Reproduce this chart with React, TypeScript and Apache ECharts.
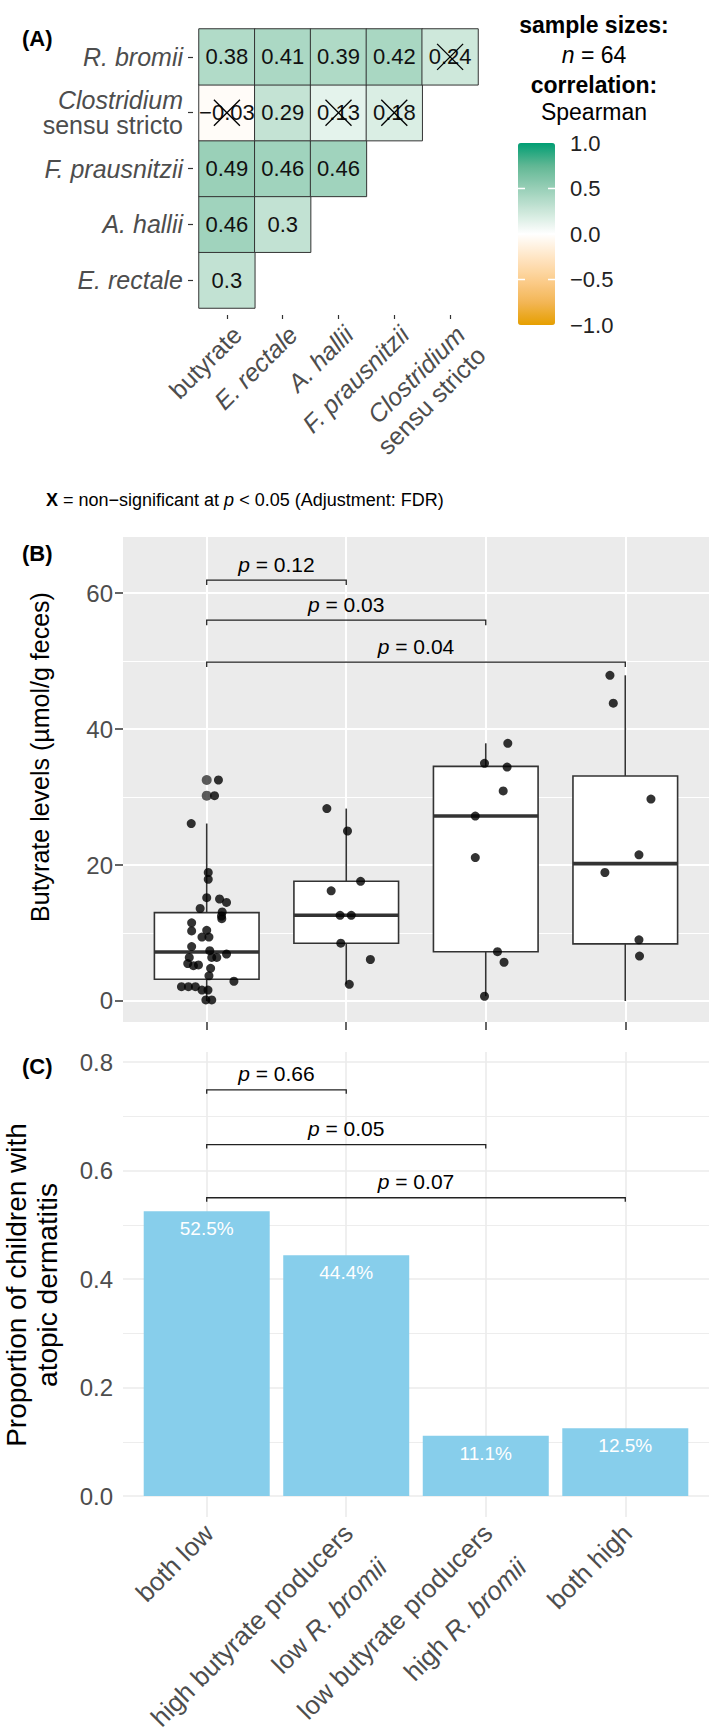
import React, { useEffect, useRef } from 'react';
import * as echarts from 'echarts';

const W = 709;
const H = 1733;
const FONT = "'Liberation Sans', Arial, Helvetica, sans-serif";
const GREY = '#4D4D4D';

// ---------------- Panel A: correlation matrix ----------------
const heatX = ['butyrate', 'E. rectale', 'A. hallii', 'F. prausnitzii', 'Clostridium sensu stricto'];
const heatY = ['E. rectale', 'A. hallii', 'F. prausnitzii', 'Clostridium sensu stricto', 'R. bromii'];
const corrERectale = [0.3];
const corrAHallii = [0.46, 0.3];
const corrFPrausnitzii = [0.49, 0.46, 0.46];
const corrClostridium = [-0.03, 0.29, 0.13, 0.18];
const corrRBromii = [0.38, 0.41, 0.39, 0.42, 0.24];
const nonSignificant = [[4, 4], [0, 3], [2, 3], [3, 3]]; // [x index, y index]
const legendTicks = [1, 0.5, 0, -0.5, -1];
const legendTickLabels = ['1.0', '0.5', '0.0', '\u22120.5', '\u22121.0'];
const sampleSize = 64;
const corrMethod = 'Spearman';

// ---------------- Panel B: butyrate box plots ----------------
const groups = [
  'both low',
  'high butyrate producers\nlow R. bromii',
  'low butyrate producers\nhigh R. bromii',
  'both high',
];
// [lower whisker, q1, median, q3, upper whisker]
const boxStats = [
  [0, 3.2, 7.2, 13.0, 26.1],
  [2.45, 8.5, 12.6, 17.6, 28.3],
  [0.7, 7.25, 27.2, 34.5, 37.9],
  [0, 8.4, 20.2, 33.1, 47.9],
];
const outliers = [[0, 32.5], [0, 30.2]];
// [value, jitter (category units)]
const pointsBothLow = [
  [32.5, 0.084], [30.2, 0.056], [26.1, -0.111], [18.9, 0.011], [17.9, 0.011], [15.2, 0],
  [15.0, 0.092], [14.5, 0.142], [13.6, -0.047], [13.1, 0.111], [12.5, 0.106], [12.1, 0.108],
  [11.5, -0.108], [10.3, -0.108], [10.4, 0], [9.4, -0.034], [9.4, 0.016], [8.0, -0.108],
  [7.4, 0.022], [6.4, -0.125], [6.4, 0.036], [6.4, 0.072], [6.9, 0.142], [5.5, -0.136],
  [5.2, -0.095], [5.3, -0.059], [4.8, 0.028], [3.7, 0.016], [2.9, 0.195], [2.1, -0.181],
  [2.1, -0.131], [2.1, -0.081], [1.6, -0.034], [1.6, 0.009], [0.15, -0.006], [0.15, 0.036],
];
const pointsHighProducers = [
  [28.3, -0.139], [25.0, 0.009], [17.6, 0.103], [16.2, -0.108], [12.6, -0.044],
  [12.6, 0.036], [8.5, -0.039], [6.1, 0.173], [2.45, 0.022],
];
const pointsHighBromii = [
  [37.9, 0.158], [34.95, -0.009], [34.4, 0.153], [30.9, 0.125], [27.2, -0.075],
  [21.1, -0.075], [7.25, 0.084], [5.7, 0.131], [0.7, -0.009],
];
const pointsBothHigh = [
  [47.9, -0.11], [43.8, -0.086], [29.7, 0.184], [21.5, 0.098], [18.9, -0.146], [9.0, 0.098], [6.6, 0.102],
];
const groupPoints = [pointsBothLow, pointsHighProducers, pointsHighBromii, pointsBothHigh];
const bTicks = [0, 20, 40, 60];
const bMinor = [10, 30, 50];
const bPairs = [[0, 1], [0, 2], [0, 3]];
const bBracketY = [61.9, 56.0, 49.85];
const bPValues = ['0.12', '0.03', '0.04'];

// ---------------- Panel C: proportion with atopic dermatitis ----------------
const adProportion = [0.525, 0.444, 0.111, 0.125];
const adLabels = ['52.5%', '44.4%', '11.1%', '12.5%'];
const cTicks = [0, 0.2, 0.4, 0.6, 0.8];
const cMinor = [0.1, 0.3, 0.5, 0.7];
const cPairs = [[0, 1], [0, 2], [0, 3]];
const cBracketY = [0.749, 0.648, 0.55];
const cPValues = ['0.66', '0.05', '0.07'];

const catIdx = [0, 1, 2, 3];

// ---------------- helpers ----------------
const cellLabel = (v: number) => (v < 0 ? '\u2212' + Math.abs(v) : String(v));

const speciesLabel = (name: string) => {
  if (name === 'butyrate') return '{n|butyrate}';
  if (name === 'Clostridium sensu stricto') return '{i|Clostridium}\n{n|sensu stricto}';
  return '{i|' + name + '}';
};

const groupLabel = (i: number) =>
  groups[i]
    .split('\n')
    .map((line) => {
      const k = line.indexOf('R. bromii');
      if (k < 0) return '{n|' + line + '}';
      return '{n|' + line.slice(0, k) + '}{i|R. bromii}';
    })
    .join('\n');

const richPair = (size: number, lh: number, color: string) => ({
  i: { fontStyle: 'italic', fontSize: size, color, fontFamily: FONT, lineHeight: lh },
  n: { fontStyle: 'normal', fontSize: size, color, fontFamily: FONT, lineHeight: lh },
});

const text = (
  x: number,
  y: number,
  t: string,
  o: { size?: number; align?: string; valign?: string; weight?: string; color?: string; rotation?: number; lh?: number; rich?: any } = {}
) => ({
  type: 'text',
  x,
  y,
  rotation: o.rotation || 0,
  silent: true,
  style: {
    text: t,
    fill: o.color || '#000',
    fontFamily: FONT,
    fontSize: o.size || 20,
    fontWeight: o.weight || 'normal',
    textAlign: o.align || 'left',
    align: o.align || 'left',
    textVerticalAlign: o.valign || 'middle',
    verticalAlign: o.valign || 'middle',
    lineHeight: o.lh,
    rich: o.rich,
  },
});

const bracketSeries = (xi: number, yi: number, pairs: number[][], ys: number[], labels: string[], tip: number) => ({
  type: 'custom',
  xAxisIndex: xi,
  yAxisIndex: yi,
  z: 6,
  silent: true,
  data: pairs.map((p, i) => [p[0], p[1], ys[i]]),
  encode: { x: [0, 1], y: 2 },
  renderItem: (params: any, api: any) => {
    const p1 = api.coord([api.value(0), api.value(2)]);
    const p2 = api.coord([api.value(1), api.value(2)]);
    return {
      type: 'group',
      children: [
        {
          type: 'polyline',
          shape: { points: [[p1[0], p1[1] + tip], [p1[0], p1[1]], [p2[0], p2[1]], [p2[0], p2[1] + tip]] },
          style: { stroke: '#222', lineWidth: 1.3, fill: null },
        },
        {
          type: 'text',
          x: (p1[0] + p2[0]) / 2,
          y: p1[1] - 16,
          style: {
            text: '{i|p} = ' + labels[params.dataIndex],
            fill: '#000',
            fontFamily: FONT,
            fontSize: 21,
            align: 'center',
            textAlign: 'center',
            verticalAlign: 'middle',
            textVerticalAlign: 'middle',
            rich: { i: { fontStyle: 'italic', fontSize: 21, fontFamily: FONT, fill: '#000', color: '#000' } },
          },
        },
      ],
    };
  },
});

function buildOption() {
  const heatRows = [corrERectale, corrAHallii, corrFPrausnitzii, corrClostridium, corrRBromii];
  const heatData: number[][] = [];
  heatRows.forEach((row, yi) => row.forEach((v, xi) => heatData.push([xi, yi, v])));

  const scatterData: number[][] = [];
  groupPoints.forEach((pts, gi) => pts.forEach(([v, j]) => scatterData.push([gi + j, v])));

  // colour bar geometry
  const cbX = 518, cbY = 143, cbW = 37, cbH = 182;
  const cbYof = (v: number) => cbY + ((1 - v) / 2) * cbH;

  const graphics: any[] = [
    text(22, 38, '(A)', { size: 22, weight: 'bold' }),
    text(22, 553, '(B)', { size: 22, weight: 'bold' }),
    text(22, 1066, '(C)', { size: 22, weight: 'bold' }),
    text(594, 25, 'sample sizes:', { size: 23, weight: 'bold', align: 'center' }),
    text(594, 55, '{i|n} = ' + sampleSize, {
      size: 23,
      align: 'center',
      rich: { i: { fontStyle: 'italic', fontSize: 23, fontFamily: FONT } },
    }),
    text(594, 85, 'correlation:', { size: 23, weight: 'bold', align: 'center' }),
    text(594, 112, corrMethod, { size: 23, align: 'center' }),
    text(46, 500, '{b|X} = non\u2212significant at {i|p} < 0.05 (Adjustment: FDR)', {
      size: 18,
      rich: {
        b: { fontWeight: 'bold', fontSize: 18, fontFamily: FONT },
        i: { fontStyle: 'italic', fontSize: 18, fontFamily: FONT },
      },
    }),
    text(40, 757, 'Butyrate levels (\u00b5mol/g feces)', { size: 25, align: 'center', rotation: Math.PI / 2 }),
    text(32, 1285, 'Proportion of children with\natopic dermatitis', {
      size: 28,
      align: 'center',
      rotation: Math.PI / 2,
      lh: 31,
    }),
  ];
  legendTicks.forEach((v, i) => {
    graphics.push(text(570, cbYof(v), legendTickLabels[i], { size: 22, color: '#222' }));
    if (v < 1 && v > -1) {
      graphics.push({
        type: 'line', silent: true, z: 100,
        shape: { x1: cbX, y1: cbYof(v), x2: cbX + 7, y2: cbYof(v) },
        style: { stroke: '#fff', lineWidth: 1.5 },
      });
      graphics.push({
        type: 'line', silent: true, z: 100,
        shape: { x1: cbX + cbW - 7, y1: cbYof(v), x2: cbX + cbW, y2: cbYof(v) },
        style: { stroke: '#fff', lineWidth: 1.5 },
      });
    }
  });

  const noLine = { show: false, onZero: false };

  return {
    animation: false,
    backgroundColor: '#fff',
    textStyle: { fontFamily: FONT },
    graphic: { elements: graphics },
    grid: [
      { left: 199, top: 29, width: 279, height: 279, outerBoundsMode: 'none', containLabel: false },
      {
        left: 123, top: 537, width: 586, height: 485, show: true, backgroundColor: '#EBEBEB', borderWidth: 0,
        outerBoundsMode: 'none', containLabel: false,
      },
      { left: 123, top: 1052, width: 586, height: 465, outerBoundsMode: 'none', containLabel: false },
    ],
    visualMap: {
      type: 'continuous',
      seriesIndex: 0,
      dimension: 2,
      min: -1,
      max: 1,
      calculable: false,
      hoverLink: false,
      show: true,
      orient: 'vertical',
      left: cbX - 5,
      top: cbY - 5,
      itemWidth: cbW,
      itemHeight: cbH,
      padding: 5,
      text: null,
      inRange: {
        color: ['#E69F00', '#F3B656', '#FCCE8F', '#FFE6C6', '#FFFFFF', '#CCE7DA', '#98CFB7', '#61B794', '#009E73'],
      },
    },
    xAxis: [
      {
        type: 'category',
        gridIndex: 0,
        data: heatX,
        position: 'bottom',
        offset: 7,
        axisLine: noLine,
        axisTick: { show: true, alignWithLabel: true, length: 4, lineStyle: { color: '#333', width: 1.2 } },
        axisLabel: {
          interval: 0,
          rotate: 45,
          align: 'right',
          verticalAlign: 'top',
          margin: 5,
          fontSize: 25,
          color: GREY,
          lineHeight: 29,
          formatter: (v: string) => speciesLabel(v),
          rich: richPair(25, 29, GREY),
        },
        splitLine: { show: false },
      },
      {
        type: 'value',
        gridIndex: 1,
        min: -0.6,
        max: 3.6,
        axisLine: noLine,
        axisTick: { show: true, customValues: catIdx, length: 8, lineStyle: { color: '#333', width: 1.5 } },
        axisLabel: { show: false, customValues: catIdx },
        splitLine: { show: true, lineStyle: { color: '#FFFFFF', width: 2 } },
      },
      {
        type: 'value',
        gridIndex: 2,
        min: -0.6,
        max: 3.6,
        axisLine: noLine,
        axisTick: { show: false, customValues: catIdx },
        axisLabel: {
          customValues: catIdx,
          rotate: 45,
          align: 'right',
          verticalAlign: 'top',
          margin: -20,
          padding: [0, 21, 0, 0],
          fontSize: 26,
          color: GREY,
          lineHeight: 48,
          formatter: (v: number) => groupLabel(Math.round(v)),
          rich: richPair(26, 48, GREY),
        },
        splitLine: { show: true, lineStyle: { color: '#EBEBEB', width: 1.6 } },
      },
    ],
    yAxis: [
      {
        type: 'category',
        gridIndex: 0,
        data: heatY,
        position: 'left',
        offset: 6,
        axisLine: noLine,
        axisTick: { show: true, alignWithLabel: true, length: 5, lineStyle: { color: '#333', width: 1.2 } },
        axisLabel: {
          interval: 0,
          margin: 10,
          fontSize: 25,
          color: GREY,
          lineHeight: 25,
          formatter: (v: string) => speciesLabel(v),
          rich: richPair(25, 25, GREY),
        },
        splitLine: { show: false },
      },
      {
        type: 'value',
        gridIndex: 1,
        min: -3.09,
        max: 68.24,
        position: 'left',
        axisLine: noLine,
        axisTick: { show: true, customValues: bTicks, length: 8, lineStyle: { color: '#333', width: 1.5 } },
        axisLabel: { customValues: bTicks, margin: 10, fontSize: 24, color: GREY, formatter: (v: number) => String(Math.round(v)) },
        splitLine: { show: true, lineStyle: { color: '#FFFFFF', width: 2 } },
      },
      {
        type: 'value',
        gridIndex: 1,
        min: -3.09,
        max: 68.24,
        position: 'left',
        axisLine: noLine,
        axisTick: { show: false, customValues: bMinor },
        axisLabel: { show: false, customValues: bMinor },
        splitLine: { show: true, lineStyle: { color: '#FFFFFF', width: 1 } },
      },
      {
        type: 'value',
        gridIndex: 2,
        min: -0.0387,
        max: 0.8187,
        position: 'left',
        axisLine: noLine,
        axisTick: { show: false, customValues: cTicks },
        axisLabel: { customValues: cTicks, margin: 10, fontSize: 24, color: GREY, formatter: (v: number) => v.toFixed(1) },
        splitLine: { show: true, lineStyle: { color: '#EBEBEB', width: 1.6 } },
      },
      {
        type: 'value',
        gridIndex: 2,
        min: -0.0387,
        max: 0.8187,
        position: 'left',
        axisLine: noLine,
        axisTick: { show: false, customValues: cMinor },
        axisLabel: { show: false, customValues: cMinor },
        splitLine: { show: true, lineStyle: { color: '#EBEBEB', width: 0.9 } },
      },
    ],
    series: [
      {
        type: 'heatmap',
        xAxisIndex: 0,
        yAxisIndex: 0,
        data: heatData,
        silent: true,
        itemStyle: { borderColor: '#333', borderWidth: 1 },
        label: {
          show: true,
          formatter: (p: any) => cellLabel(p.value[2]),
          fontSize: 22,
          color: '#111',
          fontFamily: FONT,
        },
        emphasis: { disabled: true },
      },
      {
        type: 'custom',
        xAxisIndex: 0,
        yAxisIndex: 0,
        z: 5,
        silent: true,
        data: nonSignificant,
        renderItem: (params: any, api: any) => {
          const c = api.coord([api.value(0), api.value(1)]);
          const h = 13;
          return {
            type: 'group',
            children: [
              { type: 'line', shape: { x1: c[0] - h, y1: c[1] - h, x2: c[0] + h, y2: c[1] + h }, style: { stroke: '#000', lineWidth: 1.3 } },
              { type: 'line', shape: { x1: c[0] - h, y1: c[1] + h, x2: c[0] + h, y2: c[1] - h }, style: { stroke: '#000', lineWidth: 1.3 } },
            ],
          };
        },
      },
      {
        type: 'custom',
        xAxisIndex: 1,
        yAxisIndex: 1,
        z: 2,
        silent: true,
        data: boxStats.map((s, i) => [i, ...s]),
        encode: { x: 0, y: [1, 2, 3, 4, 5] },
        renderItem: (params: any, api: any) => {
          const x = api.value(0);
          const hw = 0.375;
          const lo = api.coord([x, api.value(1)]);
          const q1 = api.coord([x + hw, api.value(2)]);
          const med = api.coord([x, api.value(3)]);
          const q3 = api.coord([x - hw, api.value(4)]);
          const hi = api.coord([x, api.value(5)]);
          const stroke = '#333333';
          return {
            type: 'group',
            children: [
              { type: 'line', shape: { x1: lo[0], y1: q1[1], x2: lo[0], y2: lo[1] }, style: { stroke, lineWidth: 1.6 } },
              { type: 'line', shape: { x1: lo[0], y1: q3[1], x2: lo[0], y2: hi[1] }, style: { stroke, lineWidth: 1.6 } },
              {
                type: 'rect',
                shape: { x: q3[0], y: q3[1], width: q1[0] - q3[0], height: q1[1] - q3[1] },
                style: { fill: '#fff', stroke, lineWidth: 1.6 },
              },
              { type: 'line', shape: { x1: q3[0], y1: med[1], x2: q1[0], y2: med[1] }, style: { stroke, lineWidth: 3.6 } },
            ],
          };
        },
      },
      {
        type: 'scatter',
        xAxisIndex: 1,
        yAxisIndex: 1,
        z: 3,
        silent: true,
        symbolSize: 10,
        itemStyle: { color: '#333333' },
        data: outliers,
      },
      {
        type: 'scatter',
        xAxisIndex: 1,
        yAxisIndex: 1,
        z: 4,
        silent: true,
        symbolSize: 9,
        itemStyle: { color: '#000' },
        data: scatterData,
      },
      bracketSeries(1, 1, bPairs, bBracketY, bPValues, 5),
      {
        type: 'bar',
        xAxisIndex: 2,
        yAxisIndex: 3,
        z: 2,
        silent: true,
        barWidth: 126,
        itemStyle: { color: '#87CEEB' },
        data: adProportion.map((v, i) => [i, v]),
        label: {
          show: true,
          position: 'insideTop',
          distance: 8,
          color: '#fff',
          fontSize: 19,
          fontFamily: FONT,
          formatter: (p: any) => adLabels[p.dataIndex],
        },
      },
      bracketSeries(2, 3, cPairs, cBracketY, cPValues, 4),
    ],
  };
}

export default function App() {
  const ref = useRef<HTMLDivElement>(null);
  useEffect(() => {
    if (!ref.current) return;
    const chart = echarts.init(ref.current, null, { renderer: 'svg', width: W, height: H });
    chart.setOption(buildOption() as any);
    return () => chart.dispose();
  }, []);
  return (
    <div
      ref={ref}
      style={{ position: 'absolute', left: 0, top: 0, width: W, height: H, background: '#fff' }}
    />
  );
}
